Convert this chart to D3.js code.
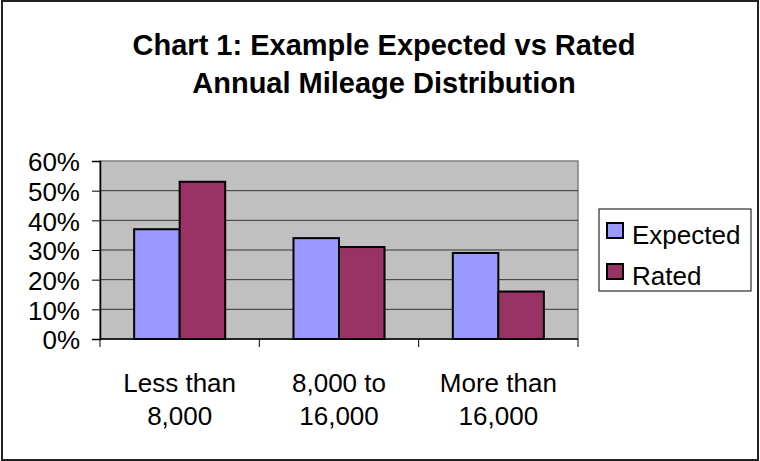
<!DOCTYPE html>
<html>
<head>
<meta charset="utf-8">
<script src="https://d3js.org/d3.v7.min.js"></script>
<style>
  body { margin: 0; background: #fff; }
  svg { display: block; font-family: "Liberation Sans", Arial, sans-serif; }
</style>
</head>
<body>
<div id="chart"></div>
<script>
// Chart data
const categories = [["Less than", "8,000"], ["8,000 to", "16,000"], ["More than", "16,000"]];
const seriesNames = ["Expected", "Rated"];
const expectedValues = [0.37, 0.34, 0.29];
const ratedValues = [0.53, 0.31, 0.16];
const yTicks = [0, 0.1, 0.2, 0.3, 0.4, 0.5, 0.6];
const titleLines = ["Chart 1: Example Expected vs Rated", "Annual Mileage Distribution"];

const colors = { "Expected": "#9999FF", "Rated": "#993366" };

const width = 760;
const height = 461;
const plot = { left: 100, right: 578, top: 161, bottom: 339 };

const svg = d3.select("#chart")
    .append("svg")
        .attr("width", width)
        .attr("height", height);

// outer frame
svg.append("rect")
    .attr("x", 2).attr("y", 1)
    .attr("width", 756).attr("height", 459)
    .attr("fill", "white")
    .attr("stroke", "#222")
    .attr("stroke-width", 2);

// title
svg.append("text")
    .attr("text-anchor", "middle")
    .attr("font-weight", "bold")
    .attr("font-size", 29)
    .selectAll("tspan")
    .data(titleLines)
    .join("tspan")
        .attr("x", 384)
        .attr("y", (d, i) => 55 + i * 38)
        .text(d => d);

const catKeys = categories.map(c => c.join(" "));

const x = d3.scaleBand()
    .domain(catKeys)
    .range([plot.left, plot.right]);

// 150% gap width between groups
const xInner = d3.scaleBand()
    .domain(seriesNames)
    .range([0, x.bandwidth()])
    .paddingOuter(0.75);

const y = d3.scaleLinear()
    .domain([0, 0.6])
    .range([plot.bottom, plot.top]);

// plot background
svg.append("rect")
    .attr("x", plot.left).attr("y", plot.top)
    .attr("width", plot.right - plot.left)
    .attr("height", plot.bottom - plot.top)
    .attr("fill", "#C0C0C0")
    .attr("stroke", "#808080")
    .attr("stroke-width", 1.5);

// gridlines
svg.append("g")
    .selectAll("line")
    .data(yTicks.filter(t => t > 0 && t < 0.6))
    .join("line")
        .attr("x1", plot.left).attr("x2", plot.right)
        .attr("y1", d => y(d)).attr("y2", d => y(d))
        .attr("stroke", "#333")
        .attr("stroke-width", 1);

// bars
const data = catKeys.map((k, i) => ({ key: k, values: [
    { name: "Expected", value: expectedValues[i] },
    { name: "Rated", value: ratedValues[i] }
]}));

svg.append("g")
    .selectAll("g")
    .data(data)
    .join("g")
        .attr("transform", d => `translate(${x(d.key)},0)`)
    .selectAll("rect")
    .data(d => d.values)
    .join("rect")
        .attr("x", d => xInner(d.name))
        .attr("y", d => y(d.value))
        .attr("width", xInner.bandwidth())
        .attr("height", d => y(0) - y(d.value))
        .attr("fill", d => colors[d.name])
        .attr("stroke", "black")
        .attr("stroke-width", 2);

// y axis
const yAxis = svg.append("g")
    .attr("transform", `translate(${plot.left},0)`)
    .call(d3.axisLeft(y)
        .tickValues(yTicks)
        .tickFormat(d3.format(".0%"))
        .tickSize(8)
        .tickPadding(12));
yAxis.select(".domain").attr("stroke", "black").attr("stroke-width", 1.5);
yAxis.selectAll(".tick line").attr("stroke", "black");
yAxis.selectAll("text")
    .attr("font-family", "Liberation Sans, Arial, sans-serif")
    .attr("font-size", 26)
    .attr("fill", "black")
    .attr("dy", "0.38em");

// x axis: ticks at category boundaries
svg.append("line")
    .attr("x1", plot.left).attr("x2", plot.right)
    .attr("y1", plot.bottom).attr("y2", plot.bottom)
    .attr("stroke", "black").attr("stroke-width", 1.5);

svg.append("g")
    .selectAll("line")
    .data(catKeys.map(k => x(k)).concat([plot.right]))
    .join("line")
        .attr("x1", d => d).attr("x2", d => d)
        .attr("y1", plot.bottom).attr("y2", plot.bottom + 8)
        .attr("stroke", "black");

svg.append("g")
    .selectAll("text")
    .data(categories)
    .join("text")
        .attr("text-anchor", "middle")
        .attr("font-size", 26)
        .attr("transform", (d, i) => `translate(${x(catKeys[i]) + x.bandwidth() / 2},0)`)
    .selectAll("tspan")
    .data(d => d)
    .join("tspan")
        .attr("x", 0)
        .attr("y", (d, i) => 392 + i * 33)
        .text(d => d);

// legend
const legend = svg.append("g");
legend.append("rect")
    .attr("x", 599).attr("y", 209)
    .attr("width", 152).attr("height", 82)
    .attr("fill", "white")
    .attr("stroke", "black")
    .attr("stroke-width", 1);

const items = legend.selectAll("g")
    .data(seriesNames)
    .join("g")
        .attr("transform", (d, i) => `translate(0,${i * 41})`);
items.append("rect")
    .attr("x", 607).attr("y", 223)
    .attr("width", 16).attr("height", 15)
    .attr("fill", d => colors[d])
    .attr("stroke", "black")
    .attr("stroke-width", 2);
items.append("text")
    .attr("x", 632).attr("y", 244)
    .attr("font-size", 26)
    .text(d => d);
</script>
</body>
</html>
